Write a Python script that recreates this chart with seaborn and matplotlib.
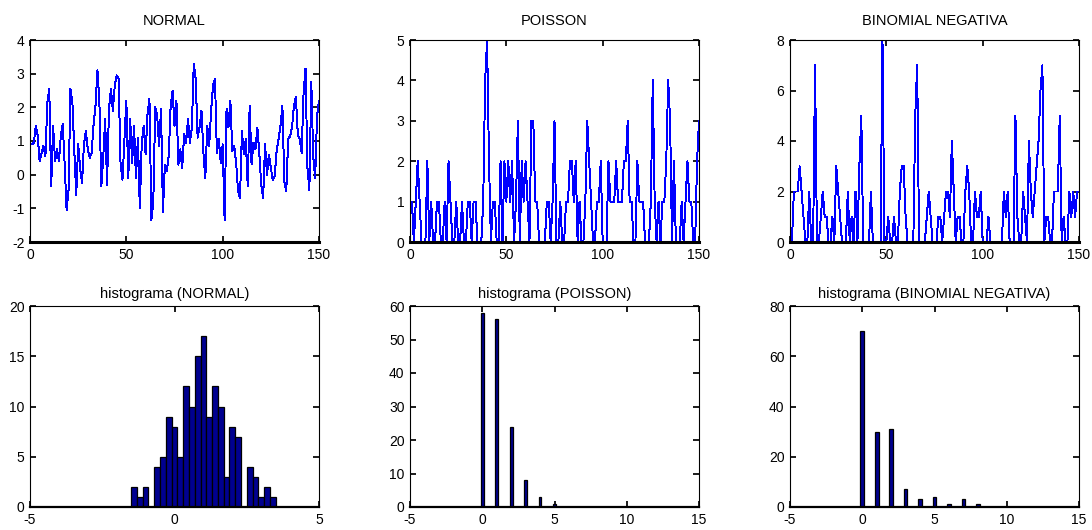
import numpy as np
import matplotlib
matplotlib.use('Agg')
import matplotlib.pyplot as plt
import seaborn as sns

# series (150 samples each)
normal = [0.9, 0.95, 1.45, 1.15, 0.4, 0.65, 0.85, 0.55, 2.15, 2.55, -0.35, 1.45, 0.4, 0.75, 0.4, 1.15, 1.5,
          0.3, -1.05, -0.45, 2.55, 2.15, 0.7, -0.6, 0.9, 0.2, -0.25, 0.9, 1.3, 0.75, 0.5, 0.65, 1.5, 2.05,
          3.1, 2.2, -0.35, 0.5, 1.65, -0.3, 1.95, 2.55, 1.9, 2.65, 2.95, 2.85, 0.3, -0.15, 1.05, 2.2, -0.1,
          1.65, 0.35, 1.45, -0.1, 1.1, -1.0, 0.95, 1.45, 0.6, 1.8, 2.25, -1.35, -0.8, 2.0, 1.75, 0.85, 1.95,
          -1.1, 0.3, 0.1, 0.55, 2.05, 2.5, 1.45, 2.2, 0.3, 0.75, 0.2, 1.2, 0.95, 1.65, 0.95, 1.4, 3.3, 2.85,
          1.1, 1.4, 1.9, 0.65, -0.1, 1.45, 0.85, 1.9, 2.65, 2.85, 0.65, 1.05, 0.35, 0.9, -1.35,
          1.95, 1.4, 2.2, 0.7, 0.85, 0.35, -0.5, -0.7, 1.3, 0.6, 1.05, -0.35, 2.05, 0.3, 0.95, 0.75, 1.4,
          0.65, -0.3, -0.7, 0.9, 0.0, 0.6, 0.2, -0.15, -0.05, 0.7, 1.05, 1.45, 2.05, -0.2, -0.5, 1.05, 1.15,
          1.4, 2.05, 2.3, 1.2, 1.05, 0.65, 2.45, 3.15, 0.2, -0.45, 2.75, 0.55, -0.1, 1.75, 2.2]

poisson = [1, 0, 1, 2, 1, 0, 0, 0, 2, 0, 1, 0, 0, 1, 1, 0, 0, 1, 0, 2,
           1, 0, 0, 1, 0, 0, 1, 0, 0, 1, 1, 0, 1, 1, 0, 0, 0, 1, 4, 5,
           2, 0, 1, 1, 0, 0, 2, 0, 2, 1, 2, 1, 2, 0, 1, 3, 0, 2, 1, 2,
           1, 0, 3, 3, 1, 1, 0, 0, 0, 0, 1, 1, 0, 1, 3, 0, 0, 1, 0, 0,
           1, 1, 2, 2, 1, 2, 0, 1, 0, 0, 1, 3, 2, 1, 0, 0, 1, 1, 2, 0,
           0, 0, 2, 1, 1, 1, 2, 1, 1, 1, 2, 2, 3, 1, 1, 0, 0, 2, 1, 1,
           1, 0, 0, 0, 1, 4, 1, 0, 1, 0, 1, 1, 2, 4, 3, 0, 2, 0, 0, 0,
           1, 0, 1, 2, 1, 1, 0, 0, 2, 3]

binneg = [0, 2, 2, 2, 3, 2, 1, 0, 0, 2, 0, 0, 7, 0, 0, 1, 2, 1, 1, 0,
          0, 1, 0, 3, 2, 1, 0, 0, 0, 2, 0, 1, 0, 2, 0, 3, 5, 0, 0, 0,
          0, 2, 0, 0, 0, 0, 0, 8, 0, 0, 1, 0, 0, 1, 0, 0, 2, 3, 3, 1,
          0, 0, 0, 0, 5, 7, 0, 0, 0, 0, 1, 2, 1, 0, 0, 0, 1, 1, 0, 1,
          2, 2, 1, 4, 2, 0, 1, 1, 0, 0, 2, 3, 2, 0, 0, 2, 1, 1, 2, 0,
          0, 0, 1, 0, 0, 0, 0, 0, 0, 0, 2, 1, 2, 0, 0, 0, 5, 1, 0, 0,
          2, 1, 0, 4, 2, 1, 2, 3, 4, 6, 7, 0, 1, 1, 0, 0, 2, 2, 2, 5,
          0, 1, 0, 0, 2, 1, 2, 1, 2, 2]

# histogram counts
normal_bins = [-1.4, -1.2, -1.0, -0.8, -0.6, -0.4, -0.2, 0.0, 0.2, 0.4, 0.6, 0.8, 1.0,
               1.2, 1.4, 1.6, 1.8, 2.0, 2.2, 2.4, 2.6, 2.8, 3.0, 3.2, 3.4]
normal_counts = [2, 1, 2, 0, 4, 5, 9, 8, 5, 12, 10, 15, 17, 9, 12, 10, 3, 8, 7, 0, 4, 3, 1, 2, 1]
poisson_vals = [0, 1, 2, 3, 4, 5]
poisson_counts = [58, 56, 24, 8, 3, 1]
binneg_vals = [0, 1, 2, 3, 4, 5, 6, 7, 8]
binneg_counts = [70, 30, 31, 7, 3, 4, 1, 3, 1]

sns.set_theme(style='ticks')
plt.rcParams['font.family'] = ['Liberation Sans', 'DejaVu Sans']
plt.rcParams.update({'xtick.direction': 'in', 'ytick.direction': 'in',
                     'xtick.top': True, 'ytick.right': True,
                     'axes.edgecolor': 'black', 'axes.linewidth': 0.8,
                     'xtick.color': 'black', 'ytick.color': 'black',
                     'text.color': 'black', 'axes.titlecolor': 'black',
                     'axes.unicode_minus': False,
                     'xtick.major.size': 4, 'ytick.major.size': 4,
                     'xtick.major.pad': 4.5, 'ytick.major.pad': 4,
                     'xtick.labelsize': 10, 'ytick.labelsize': 10})

fig = plt.figure(figsize=(10.92, 5.30), dpi=100)
W, H = 1092, 530
lefts = [30, 410, 790]


def make_ax(x0, top, bottom):
    return fig.add_axes([x0 / W, (H - bottom) / H, 289 / W, (bottom - top) / H])


idx = np.arange(1, 151)
navy = '#000090'

# top row: series
top_specs = [(normal, 'NORMAL', (-2, 4), range(-2, 5)),
             (poisson, 'POISSON', (0, 5), range(0, 6)),
             (binneg, 'BINOMIAL NEGATIVA', (0, 8), range(0, 9, 2))]
for x0, (vals, title, ylim, yt) in zip(lefts, top_specs):
    ax = make_ax(x0, 40, 242)
    sns.lineplot(x=idx, y=vals, color='blue', linewidth=0.7, antialiased=False, ax=ax)
    ax.set_xlim(0, 150)
    ax.set_ylim(*ylim)
    ax.set_xticks([0, 50, 100, 150])
    ax.set_yticks(list(yt))
    ax.set_title(title, fontsize=10.5, pad=11)
    ax.spines['bottom'].set_linewidth(2.2)
    ax.set_xlabel('')
    ax.set_ylabel('')

# bottom row: histograms
ax = make_ax(lefts[0], 306, 507)
sns.histplot(x=normal_bins, weights=normal_counts, binwidth=0.2, binrange=(-1.5, 3.5),
             color=navy, edgecolor='black', linewidth=0.9, alpha=1, ax=ax)
ax.set_xlim(-5, 5)
ax.set_ylim(0, 20)
ax.set_xticks([-5, 0, 5])
ax.set_yticks([0, 5, 10, 15, 20])
ax.set_title('histograma (NORMAL)', fontsize=10.5, pad=6)

ax = make_ax(lefts[1], 306, 507)
sns.histplot(x=poisson_vals, weights=poisson_counts, discrete=True, shrink=0.2,
             color=navy, edgecolor='black', linewidth=0.9, alpha=1, ax=ax)
ax.set_xlim(-5, 15)
ax.set_ylim(0, 60)
ax.set_xticks([-5, 0, 5, 10, 15])
ax.set_yticks(range(0, 61, 10))
ax.set_title('histograma (POISSON)', fontsize=10.5, pad=6)

ax2 = make_ax(lefts[2], 306, 507)
sns.histplot(x=binneg_vals, weights=binneg_counts, discrete=True, shrink=0.25,
             color=navy, edgecolor='black', linewidth=0.9, alpha=1, ax=ax2)
ax2.set_xlim(-5, 15)
ax2.set_ylim(0, 80)
ax2.set_xticks([-5, 0, 5, 10, 15])
ax2.set_yticks(range(0, 81, 20))
ax2.set_title('histograma (BINOMIAL NEGATIVA)', fontsize=10.5, pad=6)

for a in fig.axes[3:]:
    a.set_xlabel('')
    a.set_ylabel('')
    a.spines['bottom'].set_linewidth(1.6)

fig.savefig('out.png', dpi=100)
